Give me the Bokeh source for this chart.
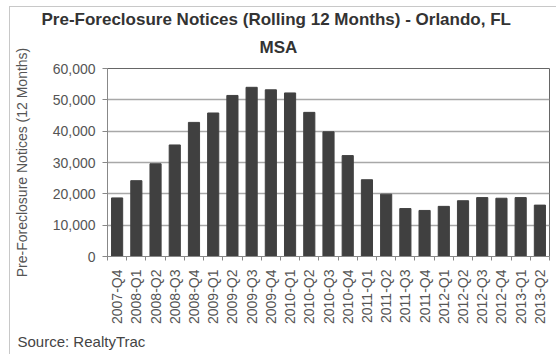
import math
from bokeh.plotting import figure
from bokeh.models import Title, FixedTicker, NumeralTickFormatter, Range1d, InlineStyleSheet
from bokeh.embed import file_html
from bokeh.resources import INLINE

quarters = ["2007-Q4", "2008-Q1", "2008-Q2", "2008-Q3", "2008-Q4", "2009-Q1", "2009-Q2",
            "2009-Q3", "2009-Q4", "2010-Q1", "2010-Q2", "2010-Q3", "2010-Q4", "2011-Q1",
            "2011-Q2", "2011-Q3", "2011-Q4", "2012-Q1", "2012-Q2", "2012-Q3", "2012-Q4",
            "2013-Q1", "2013-Q2"]
notices = [18700, 24200, 29600, 35600, 42800, 45800, 51400, 54000, 53200, 52200, 46000,
           39800, 32200, 24500, 19900, 15300, 14700, 16000, 17800, 18800, 18600, 18800, 16400]
y_ticks = [0, 10000, 20000, 30000, 40000, 50000, 60000]
title_lines = ["Pre-Foreclosure Notices (Rolling 12 Months) - Orlando, FL", "MSA"]
y_label = "Pre-Foreclosure Notices (12 Months)"
source_text = "Source: RealtyTrac"

FONT = "Liberation Sans"
W, H = 556, 354
ML, MR, MT, MB = 107, 7, 68, 98
n = len(quarters)
xs = list(range(n))

p = figure(width=W, height=H, output_backend="svg", toolbar_location=None,
           x_range=Range1d(-0.5, n - 0.5), y_range=Range1d(0, 60000),
           min_border_left=ML, min_border_right=MR, min_border_top=MT, min_border_bottom=MB)
p.background_fill_color = "white"
p.border_fill_color = "white"
p.outline_line_color = "#666666"

p.vbar(x=xs, top=notices, width=0.58, color="#404040")

p.xgrid.visible = False
p.ygrid.ticker = FixedTicker(ticks=y_ticks)
p.ygrid.grid_line_color = "#a8a8a8"
p.ygrid.grid_line_width = 1.5

ya = p.yaxis[0]
ya.ticker = FixedTicker(ticks=y_ticks)
ya.formatter = NumeralTickFormatter(format="0,0")
ya.major_tick_out = 5
ya.major_tick_in = 0
ya.minor_tick_out = 0
ya.minor_tick_in = 0
ya.axis_line_color = "#888888"
ya.major_tick_line_color = "#888888"
ya.major_label_text_font = FONT
ya.major_label_text_font_size = "14px"
ya.major_label_text_color = "#555555"
ya.major_label_standoff = 7
ya.axis_label = y_label
ya.axis_label_text_font = FONT
ya.axis_label_text_font_style = "normal"
ya.axis_label_text_font_size = "14px"
ya.axis_label_text_color = "#555555"
ya.axis_label_standoff = 20

xa = p.xaxis[0]
xa.ticker = FixedTicker(ticks=xs, minor_ticks=[i - 0.5 for i in range(n + 1)])
xa.major_label_overrides = {i: q for i, q in zip(xs, quarters)}
xa.major_label_orientation = math.pi / 2
xa.major_tick_out = 0
xa.major_tick_in = 0
xa.minor_tick_out = 4
xa.minor_tick_in = 0
xa.minor_tick_line_color = "#888888"
xa.axis_line_color = "#888888"
xa.major_label_text_font = FONT
xa.major_label_text_font_size = "14px"
xa.major_label_text_color = "#555555"
xa.major_label_standoff = 9

p.title.visible = False
title_style = dict(align="left", text_font=FONT, text_font_size="17px",
                   text_font_style="bold", text_color="#333333")
# first added sits nearest the plot frame; offsets are from the frame's left edge
p.add_layout(Title(text=title_lines[1], standoff=23, offset=152, **title_style), "above")
p.add_layout(Title(text=title_lines[0], standoff=-9, offset=-66, **title_style), "above")

p.add_layout(Title(text=source_text, align="left", offset=-90, text_font=FONT,
                   text_font_size="15px", text_font_style="normal",
                   text_color="#444444", standoff=9), "below")

p.stylesheets = [InlineStyleSheet(css=(
    ":host::after { content: ''; position: absolute; left: 9px; top: 6px; "
    "right: 0; bottom: 0; border-left: 1px solid #c8c8c8; border-top: 1px solid #c8c8c8; "
    "pointer-events: none; }"))]

open("out.html", "w").write(file_html(p, INLINE))
